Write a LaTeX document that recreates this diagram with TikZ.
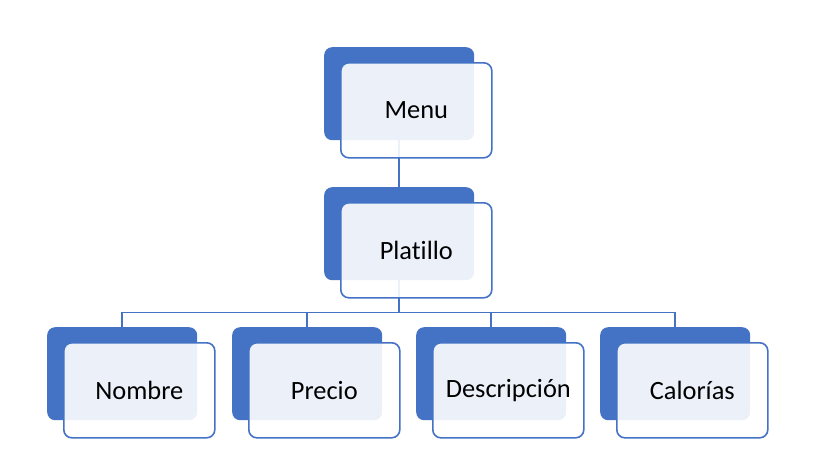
\documentclass[tikz,border=0pt]{standalone}
\usepackage{fontspec}
\setmainfont{Carlito}[RawFeature={-liga}]
\definecolor{dkblue}{HTML}{4472C4}
\begin{document}
\begin{tikzpicture}[x=1pt,y=-1pt,
  backbox/.style={anchor=north west, fill=dkblue, draw=none, rounded corners=8pt,
    minimum width=150pt, minimum height=93pt, inner sep=0pt},
  frontbox/.style={anchor=north west, fill=white, fill opacity=0.9, text opacity=1,
    draw=dkblue, line width=1.6pt, rounded corners=8pt,
    minimum width=151pt, minimum height=95pt, inner sep=0pt,
    font=\fontsize{26.4}{30}\selectfont, text=black},
  conn/.style={draw=dkblue, line width=1.8pt}]
\useasboundingbox (0,0) rectangle (828,472);
% back boxes
\node[backbox] (dMenu) at (324,47) {};
\node[backbox] (dPlat) at (324,187) {};
\node[backbox] (dNom) at (47,327) {};
\node[backbox] (dPre) at (232,327) {};
\node[backbox] (dDes) at (416,327) {};
\node[backbox] (dCal) at (600,327) {};
% connectors
\draw[conn] (dMenu.south) -- (dPlat.north);
\draw[conn] (dPlat.south) -- ++(0,32) coordinate (bus);
\draw[conn] (bus) -| (dNom.north);
\draw[conn] (bus) -| (dPre.north);
\draw[conn] (bus) -| (dDes.north);
\draw[conn] (bus) -| (dCal.north);
% front boxes
\node[frontbox] (fMenu) at (340,62) {Menu};
\node[frontbox] (fPlat) at (340,202) {Platillo};
\node[frontbox] (fNom) at (63,342) {Nombre};
\node[frontbox] (fPre) at (248,342) {Precio};
\node[frontbox] (fDes) at (432,342) {Descripción};
\node[frontbox] (fCal) at (616,342) {Calorías};
\end{tikzpicture}
\end{document}
